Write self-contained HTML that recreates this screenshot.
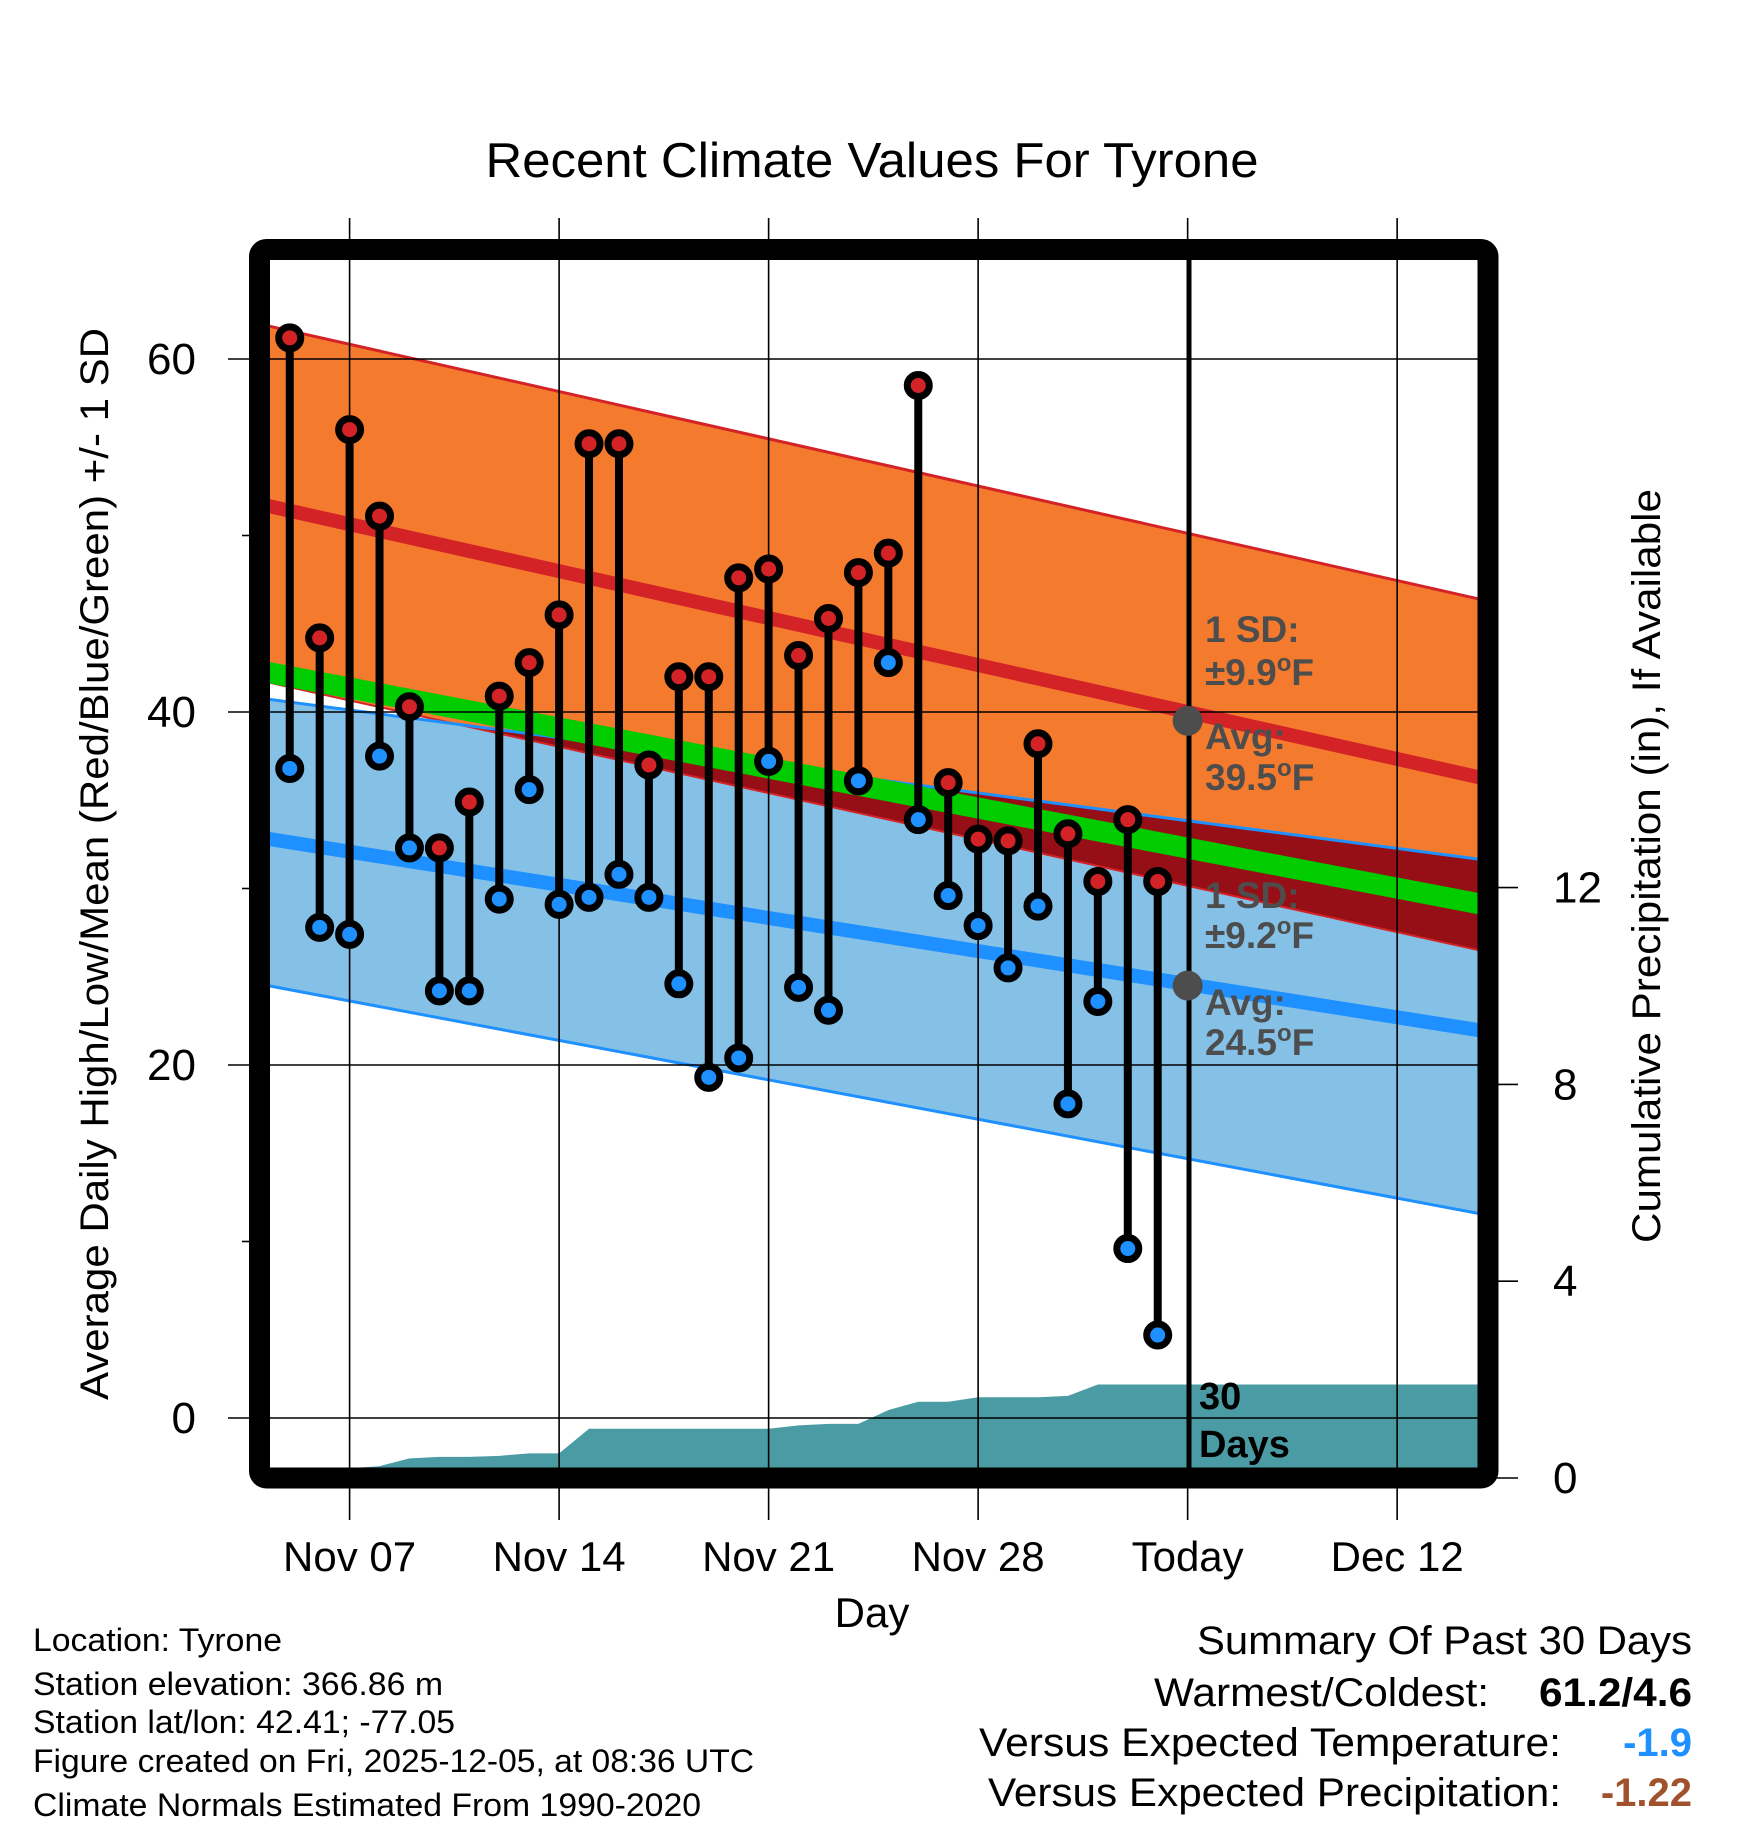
<!DOCTYPE html>
<html><head><meta charset="utf-8"><style>
html,body{margin:0;padding:0;background:#fff;}
svg{display:block;font-family:"Liberation Sans",Arial,sans-serif;}
</style></head><body>
<svg id="chart" width="1748" height="1828" viewBox="0 0 1748 1828" xmlns="http://www.w3.org/2000/svg">
<defs><clipPath id="plotclip"><rect x="259" y="249" width="1229" height="1229"/></clipPath></defs>
<g id="fills" clip-path="url(#plotclip)"></g>
<g id="grid"></g>
<g id="marks"></g>
<rect x="259.5" y="249.5" width="1228.5" height="1228.5" rx="7" fill="none" stroke="#000" stroke-width="21"/>
<line x1="1189" y1="255" x2="1189" y2="1470" stroke="#000" stroke-width="5"/>
<g id="annot"></g>
<text x="872" y="177" font-size="49" text-anchor="middle" textLength="773" lengthAdjust="spacingAndGlyphs">Recent Climate Values For Tyrone</text>
<text x="872" y="1627" font-size="42" text-anchor="middle">Day</text>
<text transform="translate(108,864) rotate(-90)" font-size="40" text-anchor="middle" textLength="1072" lengthAdjust="spacingAndGlyphs">Average Daily High/Low/Mean (Red/Blue/Green) +/- 1 SD</text>
<text transform="translate(1660,866) rotate(-90)" font-size="40" text-anchor="middle" textLength="754" lengthAdjust="spacingAndGlyphs">Cumulative Precipitation (in), If Available</text>
<g font-size="32">
<text x="33" y="1651" textLength="249" lengthAdjust="spacingAndGlyphs">Location: Tyrone</text>
<text x="33" y="1695" textLength="410" lengthAdjust="spacingAndGlyphs">Station elevation: 366.86 m</text>
<text x="33" y="1733" textLength="422" lengthAdjust="spacingAndGlyphs">Station lat/lon: 42.41; -77.05</text>
<text x="33" y="1772" textLength="721" lengthAdjust="spacingAndGlyphs">Figure created on Fri, 2025-12-05, at 08:36 UTC</text>
<text x="33" y="1816" textLength="668" lengthAdjust="spacingAndGlyphs">Climate Normals Estimated From 1990-2020</text>
</g>
<g font-size="40">
<text x="1692" y="1654" text-anchor="end" textLength="495" lengthAdjust="spacingAndGlyphs">Summary Of Past 30 Days</text>
<text x="1489" y="1706" text-anchor="end" textLength="335" lengthAdjust="spacingAndGlyphs">Warmest/Coldest:</text>
<text x="1692" y="1706" text-anchor="end" font-weight="bold" textLength="153" lengthAdjust="spacingAndGlyphs">61.2/4.6</text>
<text x="1561" y="1756" text-anchor="end" textLength="582" lengthAdjust="spacingAndGlyphs">Versus Expected Temperature:</text>
<text x="1692" y="1756" text-anchor="end" font-weight="bold" fill="#1E90FF">-1.9</text>
<text x="1561" y="1806" text-anchor="end" textLength="573" lengthAdjust="spacingAndGlyphs">Versus Expected Precipitation:</text>
<text x="1692" y="1806" text-anchor="end" font-weight="bold" fill="#A0522D">-1.22</text>
</g>
</svg>
<script>
// ---- data ----
const dayOffsets = [-2,-1,0,1,2,3,4,5,6,7,8,9,10,11,12,13,14,15,16,17,18,19,20,21,22,23,24,25,26,27];
const highs = [61.2,44.2,56.0,51.1,40.3,32.3,34.9,40.9,42.8,45.5,55.2,55.2,37.0,42.0,42.0,47.6,48.1,43.2,45.3,47.9,49.0,58.5,36.0,32.8,32.7,38.2,33.1,30.4,33.9,30.4];
const lows  = [36.8,27.8,27.4,37.5,32.3,24.2,24.2,29.4,35.6,29.1,29.5,30.8,29.5,24.6,19.3,20.4,37.2,24.4,23.1,36.1,42.8,33.9,29.6,27.9,25.5,29.0,17.8,23.6,9.6,4.7];
const precipCum = [0.2,0.2,0.2,0.24,0.4,0.43,0.43,0.45,0.5,0.5,1.0,1.0,1.0,1.0,1.0,1.0,1.0,1.07,1.1,1.1,1.38,1.55,1.55,1.64,1.64,1.64,1.67,1.9,1.9,1.9];
const normalDays = [-3.05, 38.0];
const highUpper = [62.0, 46.3];
const highAvg   = [51.8, 36.2];
const highLower = [41.8, 26.4];
const lowUpper  = [40.8, 31.6];
const lowAvg    = [32.9, 21.9];
const lowLower  = [24.6, 11.5];
const xTickDays = [0,7,14,21,28,35];
const xTickLabels = ["Nov 07","Nov 14","Nov 21","Nov 28","Today","Dec 12"];
const yTicks = [0,20,40,60];
const yMinorTicks = [10,30,50];
const pTicks = [0,4,8,12];
const todayDay = 28;
const todayHighAvg = 39.5, todayLowAvg = 24.5;

// ---- scales ----
const NS="http://www.w3.org/2000/svg";
const X = d => 349.6 + d*29.93;
const Y = v => 1418 - v*17.65;
const YP = p => 1478 - p*49.2;
const interp = (arr,d) => arr[0] + (arr[1]-arr[0])*(d-normalDays[0])/(normalDays[1]-normalDays[0]);
function mk(tag, attrs, parent){const e=document.createElementNS(NS,tag);for(const k in attrs)e.setAttribute(k,attrs[k]);parent.appendChild(e);return e;}
const fills=document.getElementById('fills'), grid=document.getElementById('grid'), marks=document.getElementById('marks'), annot=document.getElementById('annot'), svg=document.getElementById('chart');

function band(up, lo, color, name){
  const d0=normalDays[0], d1=normalDays[1];
  const pts=[[X(d0),Y(up[0])],[X(d1),Y(up[1])],[X(d1),Y(lo[1])],[X(d0),Y(lo[0])]];
  const p=mk('polygon',{points:pts.map(q=>q.join(',')).join(' '),fill:color},fills);
  
  
}
function line(arr,color,w,name){
  const l=mk('line',{x1:X(normalDays[0]),y1:Y(arr[0]),x2:X(normalDays[1]),y2:Y(arr[1]),stroke:color,'stroke-width':w},fills);
  
  
}
band(highUpper, highLower, '#F47A2E', 'high-sd-band');
band(lowUpper, lowLower, '#85C1E7', 'low-sd-band');
{
  const N=200, top=[], bot=[];
  for(let i=0;i<=N;i++){
    const d=normalDays[0]+(normalDays[1]-normalDays[0])*i/N;
    const u=interp(lowUpper,d), l=interp(highLower,d);
    if(u>l){top.push([X(d),Y(u)]);bot.unshift([X(d),Y(l)]);}
  }
  if(top.length){
    const p=mk('polygon',{points:top.concat(bot).map(q=>q.join(',')).join(' '),fill:'#960F16'},fills);
    
    
  }
}
line(highUpper,'#D42327',3,'high-upper-line');
line(highLower,'#D42327',2,'high-lower-line');
line(lowUpper,'#1E90FF',3,'low-upper-line');
line(lowLower,'#1E90FF',3,'low-lower-line');
line(highAvg,'#D42327',14,'high-avg-line');
line(lowAvg,'#1E90FF',14,'low-avg-line');
line([(highAvg[0]+lowAvg[0])/2,(highAvg[1]+lowAvg[1])/2],'#00CC00',21,'mean-avg-line');
{
  let pts=[[X(normalDays[0]),1480],[X(normalDays[0]),YP(precipCum[0])]];
  dayOffsets.forEach((d,i)=>pts.push([X(d),YP(precipCum[i])]));
  pts.push([X(normalDays[1]),YP(precipCum[precipCum.length-1])],[X(normalDays[1]),1480]);
  const p=mk('polygon',{points:pts.map(q=>q.join(',')).join(' '),fill:'#4A9BA3'},fills);
  
  
}
xTickDays.forEach((d,i)=>{
  const g=mk('line',{x1:X(d),y1:218,x2:X(d),y2:1520,stroke:'#000','stroke-width':1.6},grid);
  
  
  const t=mk('text',{x:X(d),y:1571,'font-size':42,'text-anchor':'middle'},svg);
  t.textContent=xTickLabels[i];
  
  
});
yTicks.forEach(v=>{
  const g=mk('line',{x1:228,y1:Y(v),x2:1480,y2:Y(v),stroke:'#000','stroke-width':1.6},grid);
  
  
  const t=mk('text',{x:196,y:Y(v)+15,'font-size':44,'text-anchor':'end'},svg);
  t.textContent=v;
  
  
});
yMinorTicks.forEach(v=>{
  const g=mk('line',{x1:242,y1:Y(v),x2:255,y2:Y(v),stroke:'#000','stroke-width':1.6},grid);
  
  
});
pTicks.forEach(p=>{
  const g=mk('line',{x1:1495,y1:YP(p),x2:1518,y2:YP(p),stroke:'#000','stroke-width':1.6},svg);
  
  
  const t=mk('text',{x:1553,y:YP(p)+15,'font-size':44},svg);
  t.textContent=p;
  
  
});
dayOffsets.forEach((d,i)=>{
  const s=mk('line',{x1:X(d),y1:Y(highs[i]),x2:X(d),y2:Y(lows[i]),stroke:'#000','stroke-width':8},marks);
  
  
});
dayOffsets.forEach((d,i)=>{
  const h=mk('circle',{cx:X(d),cy:Y(highs[i]),r:11,fill:'#D42327',stroke:'#000','stroke-width':7},marks);
  
  
  const l=mk('circle',{cx:X(d),cy:Y(lows[i]),r:11,fill:'#1E90FF',stroke:'#000','stroke-width':7},marks);
  
  
});
[[todayHighAvg,'high-avg-marker'],[todayLowAvg,'low-avg-marker']].forEach(a=>{
  const c=mk('circle',{cx:X(todayDay),cy:Y(a[0]),r:15,fill:'#4D4D4D'},annot);
  
  
});
const labels=[["1 SD:",642,""],["±9.9",685,"F"],["Avg:",749,""],["39.5",790,"F"],["1 SD:",908,""],["±9.2",948,"F"],["Avg:",1015,""],["24.5",1055,"F"]];
labels.forEach(l=>{
  const t=mk('text',{x:1205,y:l[1],'font-size':37,'font-weight':'bold',fill:'#4D4D4D'},annot);
  t.textContent=l[0];
  if(l[2]){
    const o=mk('tspan',{dy:-14,'font-size':24},t); o.textContent='o';
    const f=mk('tspan',{dy:14},t); f.textContent=l[2];
  }
  
  
});
[["30",1409],["Days",1457]].forEach(l=>{
  const t=mk('text',{x:1199,y:l[1],'font-size':38,'font-weight':'bold',fill:'#000'},annot);
  t.textContent=l[0];
  
  
});
</script>
</body></html>
